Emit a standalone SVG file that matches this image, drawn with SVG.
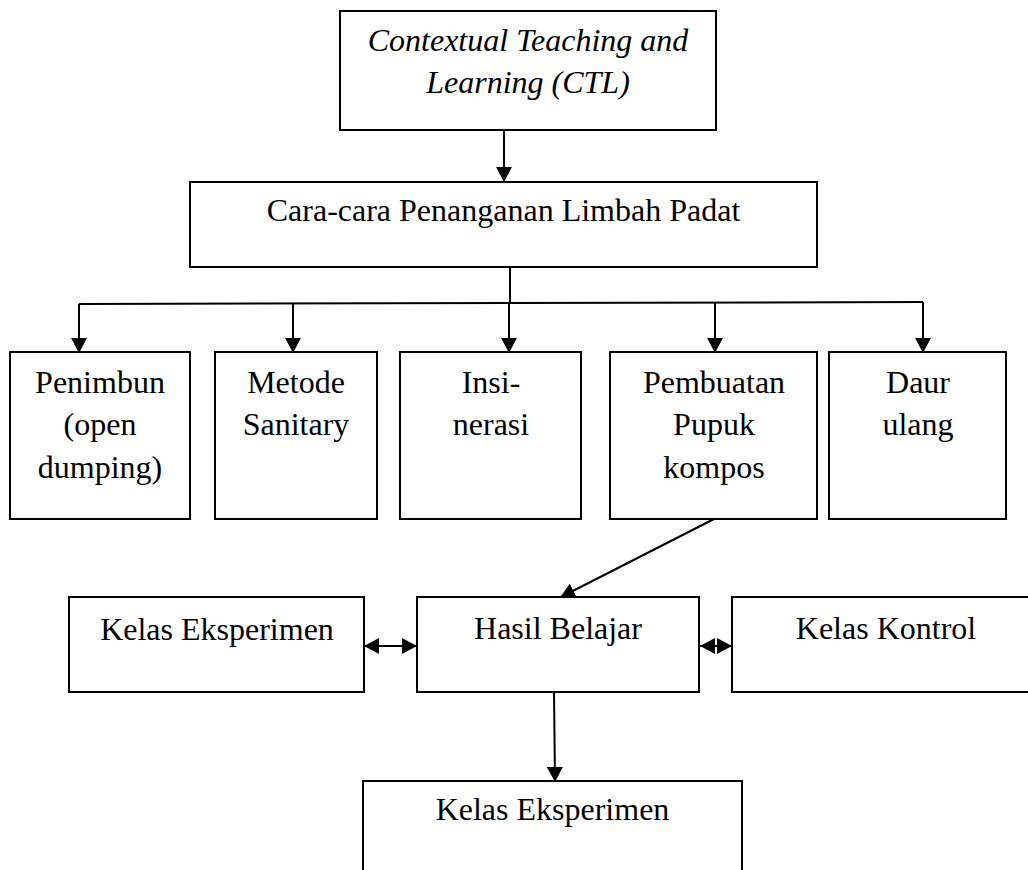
<svg xmlns="http://www.w3.org/2000/svg" width="1028" height="870" viewBox="0 0 1028 870">
<style>
.box{fill:#fff;stroke:#000;stroke-width:2}
.t{font-family:"Liberation Serif","Times New Roman",serif;font-size:32px;fill:#000;text-anchor:middle}
.i{font-style:italic}
.c{fill:none;stroke:#000;stroke-width:2}
</style>
<defs>
<marker id="arr" markerUnits="userSpaceOnUse" markerWidth="15" markerHeight="16" refX="14" refY="8" orient="auto-start-reverse" viewBox="0 0 15 16">
<path d="M0,0 L15,8 L0,16 z" fill="#000"/>
</marker>
<marker id="arrS" markerUnits="userSpaceOnUse" markerWidth="15" markerHeight="16" refX="15" refY="8" orient="auto-start-reverse" viewBox="0 0 15 16">
<path d="M0,0 L15,8 L0,16 z" fill="#000"/>
</marker>
</defs>
<rect width="1028" height="870" fill="#fff"/>
<g id="connectors">
<line class="c" x1="504" y1="130" x2="504" y2="181" marker-end="url(#arr)"/>
<polyline class="c" points="510,267 510,303"/>
<line class="c" x1="79" y1="304" x2="923" y2="302"/>
<line class="c" x1="79" y1="304" x2="79" y2="352" marker-end="url(#arr)"/>
<line class="c" x1="293" y1="303" x2="293" y2="352" marker-end="url(#arr)"/>
<line class="c" x1="509" y1="303" x2="509" y2="352" marker-end="url(#arr)"/>
<line class="c" x1="715" y1="303" x2="715" y2="352" marker-end="url(#arr)"/>
<line class="c" x1="923" y1="302" x2="923" y2="352" marker-end="url(#arr)"/>
<line class="c" x1="714" y1="519" x2="561" y2="597" marker-end="url(#arr)"/>
<line class="c" x1="365" y1="646" x2="416" y2="646" marker-start="url(#arr)" marker-end="url(#arr)"/>
<line class="c" x1="700" y1="646" x2="732" y2="646" marker-start="url(#arrS)" marker-end="url(#arrS)"/>
<line class="c" x1="554" y1="692" x2="555" y2="781" marker-end="url(#arr)"/>
</g>
<g id="ctl">
<rect class="box" x="340" y="11" width="376" height="119"/>
<text class="t i" x="528" y="51">Contextual Teaching and</text>
<text class="t i" x="528" y="93">Learning (CTL)</text>
</g>
<g id="cara">
<rect class="box" x="190" y="182" width="627" height="85"/>
<text class="t" x="503.5" y="221">Cara-cara Penanganan Limbah Padat</text>
</g>
<g id="penimbun">
<rect class="box" x="10" y="352" width="180" height="167"/>
<text class="t" x="100" y="393">Penimbun</text>
<text class="t" x="100" y="435">(open</text>
<text class="t" x="100" y="478">dumping)</text>
</g>
<g id="metode">
<rect class="box" x="215" y="352" width="162" height="167"/>
<text class="t" x="296" y="393">Metode</text>
<text class="t" x="296" y="435">Sanitary</text>
</g>
<g id="insinerasi">
<rect class="box" x="400" y="352" width="181" height="167"/>
<text class="t" x="491" y="393">Insi-</text>
<text class="t" x="491" y="435">nerasi</text>
</g>
<g id="pupuk">
<rect class="box" x="610" y="352" width="207" height="167"/>
<text class="t" x="714" y="393">Pembuatan</text>
<text class="t" x="714" y="435">Pupuk</text>
<text class="t" x="714" y="478">kompos</text>
</g>
<g id="daur">
<rect class="box" x="829" y="352" width="177" height="167"/>
<text class="t" x="918" y="393">Daur</text>
<text class="t" x="918" y="435">ulang</text>
</g>
<g id="eksperimen1">
<rect class="box" x="69" y="597" width="295" height="95"/>
<text class="t" x="217" y="640">Kelas Eksperimen</text>
</g>
<g id="hasil">
<rect class="box" x="417" y="597" width="282" height="95"/>
<text class="t" x="558" y="639">Hasil Belajar</text>
</g>
<g id="kontrol">
<rect class="box" x="732" y="597" width="308" height="95"/>
<text class="t" x="886" y="639">Kelas Kontrol</text>
</g>
<g id="eksperimen2">
<rect class="box" x="363" y="781" width="379" height="100"/>
<text class="t" x="552.5" y="820">Kelas Eksperimen</text>
</g>
</svg>
